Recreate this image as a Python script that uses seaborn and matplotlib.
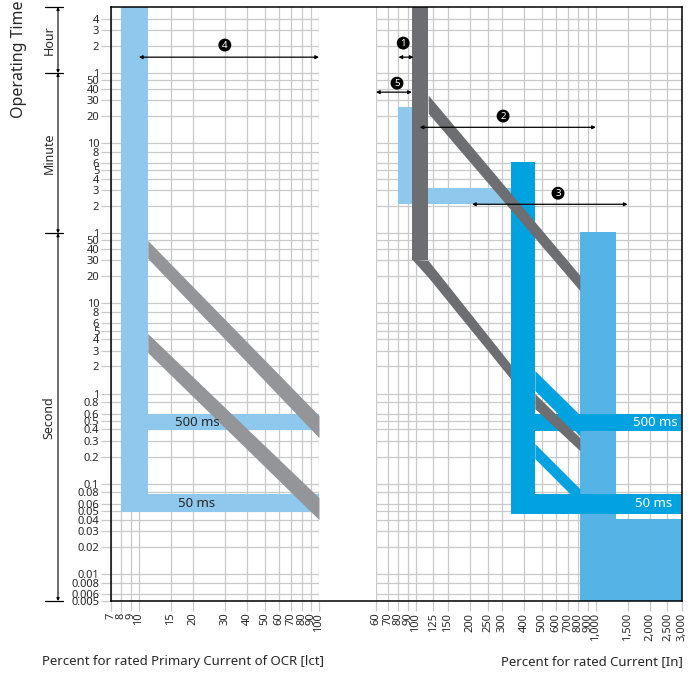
import matplotlib
matplotlib.use("Agg")
import matplotlib.pyplot as plt
import matplotlib.transforms as mtransforms
from matplotlib.lines import Line2D
from matplotlib.ticker import NullLocator
import seaborn as sns

sns.set_theme(style="white")
plt.rcParams['font.family'] = ['Noto Sans', 'DejaVu Sans']
NARROW = ['Liberation Sans Narrow', 'Noto Sans', 'DejaVu Sans']

# ---- axes ticks ----
left_xticks = [7, 8, 9, 10, 15, 20, 30, 40, 50, 60, 70, 80, 90, 100]
right_xticks = [60, 70, 80, 90, 100, 125, 150, 200, 250, 300, 400, 500, 600, 700,
                800, 900, 1000, 1500, 2000, 2500, 3000]
sec_ticks = [0.005, 0.006, 0.008, 0.01, 0.02, 0.03, 0.04, 0.05, 0.06, 0.08, 0.1,
             0.2, 0.3, 0.4, 0.5, 0.6, 0.8, 1, 2, 3, 4, 5, 6, 8, 10, 20, 30, 40, 50]
min_ticks = [1, 2, 3, 4, 5, 6, 8, 10, 20, 30, 40, 50]
hour_ticks = [1, 2, 3, 4]
time_bounds = [19450, 3600, 60, 0.005]       # top / 1 h / 1 min / bottom (s)
time_units = ['Hour', 'Minute', 'Second']

# ---- left panel: OCR (% of Ict, seconds) ----
ocr_col_x = [8.0, 11.2]
ocr_col_bottom = 0.049
ocr_500_y = [0.39, 0.60]
ocr_50_y = [0.049, 0.077]
ocr_diag_x = [11.2, 100]
ocr_diag1_top = [50, 0.57]
ocr_diag1_bot = [31.6, 0.324]
ocr_diag2_top = [4.64, 0.070]
ocr_diag2_bot = [2.85, 0.040]

# ---- right panel: breaker (% of In, seconds) ----
pale_col_x = [80, 95]
pale_col_y = [126, 1500]
pale_bar_x = [80, 337]
pale_bar_y = [126, 190]

dark_col_x = [95, 117]
dark_col_bottom = 30
dark_low_x = [95, 117, 337]
dark_low_top = [31, 30, 2.1]
dark_low_bot = [31, 19.5, 1.45]
dark_low2_x = [458, 815]
dark_low2_top = [1.0, 0.324]
dark_low2_bot = [0.68, 0.233]
dark_up_x = [117, 815]
dark_up_top = [2050, 20.5]
dark_up_bot = [1290, 13.9]

blue_col_x = [337, 458]
blue_col_y = [0.0464, 369]
blue_500_x = [458, 3010]
blue_500_y = [0.388, 0.60]
blue_50_x = [337, 3010]
blue_50_y = [0.0464, 0.0774]
blue_str1_x = [458, 815]
blue_str1_top = [1.8, 0.58]
blue_str1_bot = [1.08, 0.34]
blue_str2_x = [458, 815]
blue_str2_top = [0.278, 0.088]
blue_str2_bot = [0.19, 0.06]

inst_col_x = [815, 1292]
inst_col_top = 61.5
inst_foot_x = [1292, 3010]
inst_foot_top = 0.041

# arrows: (number, x_from, x_to, y, label_x, label_y)
left_arrows = [('4', 10, 100, 5400, 30, 7360)]
right_arrows = [('1', 80, 97, 5400, 85, 7740),
                ('5', 60, 95, 2210, 78.5, 2780),
                ('2', 105, 1000, 900, 305, 1200),
                ('3', 205, 1500, 126, 616, 167)]

C_LIGHT = '#8EC8EC'
C_BLUE = '#00A3E0'
C_SKY = '#55B4E5'
C_DARK = '#6D6E71'
C_GREY = '#939598'
C_GRID = '#c9c9c9'

W, H = 688, 675
fig = plt.figure(figsize=(W / 100, H / 100), dpi=100)


def box(x0, x1, y0, y1):
    return [x0 / W, 1 - y1 / H, (x1 - x0) / W, (y1 - y0) / H]


ax_l = fig.add_axes(box(111, 319, 7, 601))
ax_r = fig.add_axes(box(376, 682, 7, 601))
frame = fig.add_axes(box(111, 682, 7, 601), zorder=10)
frame.patch.set_alpha(0)
frame.set_xticks([])
frame.set_yticks([])
for s in frame.spines.values():
    s.set_color('black')
    s.set_linewidth(1.1)

ytick_vals = sec_ticks + [m * 60 for m in min_ticks] + [h * 3600 for h in hour_ticks]
ytick_labs = [f'{v:g}' for v in sec_ticks + min_ticks + hour_ticks]

for ax, xt, xl in [(ax_l, left_xticks, (7, 100)), (ax_r, right_xticks, (60, 3010))]:
    ax.set_xscale('log')
    ax.set_yscale('log')
    ax.set_xlim(*xl)
    ax.set_ylim(time_bounds[-1], time_bounds[0])
    ax.set_xticks(xt, [f'{v:,}' for v in xt], rotation=90)
    ax.set_yticks(ytick_vals, ytick_labs)
    ax.xaxis.set_minor_locator(NullLocator())
    ax.yaxis.set_minor_locator(NullLocator())
    ax.grid(True, color=C_GRID, lw=0.9)
    ax.set_axisbelow(True)
    for s in ax.spines.values():
        s.set_visible(False)
    ax.tick_params(axis='both', length=7, width=0.9, color=C_GRID, labelsize=8,
                   pad=1.5, bottom=True, left=True)
    for lbl in ax.get_xticklabels() + ax.get_yticklabels():
        lbl.set_family(NARROW)
ax_r.tick_params(axis='y', left=False, labelleft=False)

# ---- left panel marks ----
ax_l.fill_betweenx([ocr_col_bottom, time_bounds[0]], *ocr_col_x, color=C_LIGHT, lw=0, zorder=2)
ax_l.fill_between([ocr_col_x[0], 100], *ocr_50_y, color=C_LIGHT, lw=0, zorder=2)
ax_l.fill_between([ocr_col_x[1], 100], *ocr_500_y, color=C_LIGHT, lw=0, zorder=2)
ax_l.fill_between(ocr_diag_x, ocr_diag1_bot, ocr_diag1_top, color=C_GREY, lw=0, zorder=3)
ax_l.fill_between(ocr_diag_x, ocr_diag2_bot, ocr_diag2_top, color=C_GREY, lw=0, zorder=3)
ax_l.text(21, 0.475, '500 ms', ha='center', va='center', fontsize=9.5, zorder=4)
ax_l.text(21, 0.061, '50 ms', ha='center', va='center', fontsize=9.5, zorder=4)

# ---- right panel marks ----
ax_r.fill_betweenx(pale_col_y, *pale_col_x, color=C_LIGHT, lw=0, zorder=2)
ax_r.fill_between(pale_bar_x, *pale_bar_y, color=C_LIGHT, lw=0, zorder=2)
ax_r.fill_betweenx([inst_col_top, time_bounds[-1]], *inst_col_x, color=C_SKY, lw=0, zorder=2)
ax_r.fill_between(inst_foot_x, time_bounds[-1], inst_foot_top, color=C_SKY, lw=0, zorder=2)
ax_r.fill_betweenx([dark_col_bottom, time_bounds[0]], *dark_col_x, color=C_DARK, lw=0, zorder=3)
ax_r.fill_between(dark_low_x, dark_low_bot, dark_low_top, color=C_DARK, lw=0, zorder=3)
ax_r.fill_betweenx(blue_col_y, *blue_col_x, color=C_BLUE, lw=0, zorder=4)
ax_r.fill_between(blue_500_x, *blue_500_y, color=C_BLUE, lw=0, zorder=4)
ax_r.fill_between(blue_50_x, *blue_50_y, color=C_BLUE, lw=0, zorder=4)
ax_r.fill_between(blue_str1_x, blue_str1_bot, blue_str1_top, color=C_BLUE, lw=0, zorder=4)
ax_r.fill_between(blue_str2_x, blue_str2_bot, blue_str2_top, color=C_BLUE, lw=0, zorder=4)
ax_r.fill_between(dark_low2_x, dark_low2_bot, dark_low2_top, color=C_DARK, lw=0, zorder=5)
ax_r.fill_between(dark_up_x, dark_up_bot, dark_up_top, color=C_DARK, lw=0, zorder=5)
ax_r.text(2850, 0.475, '500 ms', ha='right', va='center', color='white', fontsize=9.5, zorder=6)
ax_r.text(2640, 0.061, '50 ms', ha='right', va='center', color='white', fontsize=9.5, zorder=6)


def span_arrow(ax, num, x0, x1, y, lx, ly):
    ax.annotate('', xy=(x1, y), xytext=(x0, y), zorder=7,
                arrowprops=dict(arrowstyle='<|-|>', color='black', lw=0.9,
                                shrinkA=0, shrinkB=0, mutation_scale=5))
    ax.text(lx, ly, num, ha='center', va='center', color='white', fontsize=7,
            fontweight='bold', zorder=8,
            bbox=dict(boxstyle='circle,pad=0.2', fc='black', ec='none'))


for a in left_arrows:
    span_arrow(ax_l, *a)
for a in right_arrows:
    span_arrow(ax_r, *a)

# ---- time unit brackets on the left ----
blend = mtransforms.blended_transform_factory(fig.transFigure, ax_l.transData)
for b in time_bounds:
    fig.add_artist(Line2D([45 / W, 63 / W], [b, b], transform=blend, color='black', lw=0.9))
for (top, bot), unit in zip(zip(time_bounds[:-1], time_bounds[1:]), time_units):
    ax_l.annotate('', xy=(58 / W, top), xytext=(58 / W, bot), xycoords=blend,
                  textcoords=blend, annotation_clip=False,
                  arrowprops=dict(arrowstyle='<|-|>', color='black', lw=0.8,
                                  shrinkA=0, shrinkB=0, mutation_scale=4))
    ax_l.text(49 / W, (top * bot) ** 0.5, unit, transform=blend, rotation=90,
              ha='center', va='center', fontsize=9)

fig.text(19 / W, 1 - 59 / H, 'Operating Time', rotation=90, ha='center', va='center', fontsize=11.5)
fig.text(183 / W, 1 - 662 / H, 'Percent for rated Primary Current of OCR [lct]',
         ha='center', va='center', fontsize=9.5)
fig.text(683 / W, 1 - 662 / H, 'Percent for rated Current [In]', ha='right', va='center', fontsize=9.5)

fig.savefig('out.png', dpi=100)
